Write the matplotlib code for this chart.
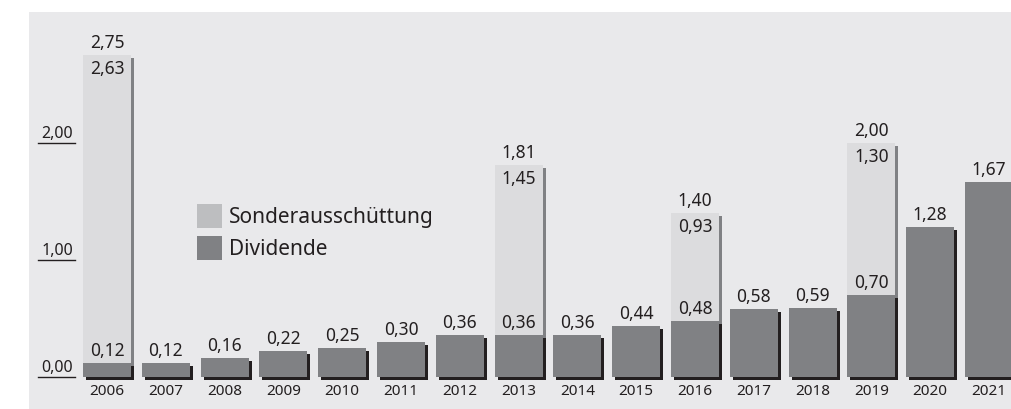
import matplotlib
matplotlib.use("Agg")
import matplotlib.pyplot as plt
from matplotlib.patches import Rectangle
from matplotlib.transforms import ScaledTranslation

years = [str(y) for y in range(2006, 2022)]
dividende = [0.12, 0.12, 0.16, 0.22, 0.25, 0.30, 0.36, 0.36, 0.36, 0.44, 0.48, 0.58, 0.59, 0.70, 1.28, 1.67]
sonder = [2.63, 0, 0, 0, 0, 0, 0, 1.45, 0, 0, 0.93, 0, 0, 1.30, 0, 0]
gesamt = [2.75, 0, 0, 0, 0, 0, 0, 1.81, 0, 0, 1.40, 0, 0, 2.00, 0, 0]
yticks = [0, 1, 2]

C_LIGHT = "#dcdcde"
C_LEG_LIGHT = "#bdbec0"
C_DARK = "#808184"
C_SHADOW = "#231f20"
C_TEXT = "#231f20"
C_PANEL = "#e9e9eb"

def fmt(v):
    return f"{v:.2f}".replace(".", ",")

plt.rcParams["font.family"] = ["Noto Sans", "DejaVu Sans"]
plt.rcParams["font.weight"] = "medium"

W, H = 1011, 410
fig = plt.figure(figsize=(W / 100, H / 100), dpi=100)
fig.patch.set_facecolor("white")
fig.patches.append(Rectangle((29 / W, 0), 1, 397 / H, transform=fig.transFigure,
                             facecolor=C_PANEL, edgecolor="none", zorder=-5))

ax = fig.add_axes([0, 0, 1, 1])
ax.set_facecolor("none")
ax.axis("off")
# 58.8 px je Kategorie, 117 px je Einheit, Null bei y=378px, erster Balken bei x=107px
STEP = 58.8
ax.set_xlim(-107 / STEP, (W - 107) / STEP)
ax.set_ylim(-32 / 117, (H - 32) / 117)

x = list(range(len(years)))
bw = 48 / STEP
shadow = ax.transData + ScaledTranslation(0.03, -0.03, fig.dpi_scale_trans)

# Schatten
ax.bar([i for i in x if gesamt[i]], [g for g in gesamt if g], width=bw,
       color=C_DARK, transform=shadow, zorder=1)
ax.bar(x, dividende, width=bw, color=C_SHADOW, transform=shadow, zorder=2)
# Balken
ax.bar([i for i in x if gesamt[i]], [g for g in gesamt if g], width=bw,
       color=C_LIGHT, zorder=3)
ax.bar(x, dividende, width=bw, color=C_DARK, zorder=4)

for i in x:
    ax.annotate(fmt(dividende[i]), (i, dividende[i]), xytext=(0, 4), textcoords="offset pixels",
                ha="center", va="bottom", fontsize=12.5, color=C_TEXT, zorder=5)
    ax.annotate(years[i], (i, 0), xytext=(0, -6), textcoords="offset pixels",
                ha="center", va="top", fontsize=11, color=C_TEXT, zorder=5)
    if gesamt[i]:
        ax.annotate(fmt(gesamt[i]), (i, gesamt[i]), xytext=(0, 4), textcoords="offset pixels",
                    ha="center", va="bottom", fontsize=12.5, color=C_TEXT, zorder=5)
        ax.annotate(fmt(sonder[i]), (i, gesamt[i]), xytext=(0, -4), textcoords="offset pixels",
                    ha="center", va="top", fontsize=12.5, color=C_TEXT, zorder=5)

# y-Achse
yt = ax.get_yaxis_transform()
for v in yticks:
    ax.plot([38 / W, 75 / W], [v, v], transform=yt, color=C_TEXT, lw=1, clip_on=False)
    ax.annotate(fmt(v), (73 / W, v), xycoords=yt, xytext=(0, 2), textcoords="offset pixels",
                ha="right", va="bottom", fontsize=11.5, color=C_TEXT)

# Legende
fig.patches.append(Rectangle((197 / W, 1 - 229 / H), 25 / W, 24 / H, transform=fig.transFigure,
                             facecolor=C_LEG_LIGHT, edgecolor="none", zorder=6))
fig.patches.append(Rectangle((197 / W, 1 - 261 / H), 25 / W, 24 / H, transform=fig.transFigure,
                             facecolor=C_DARK, edgecolor="none", zorder=6))
fig.text(229 / W, 1 - 218 / H, "Sonderausschüttung", fontsize=15, color=C_TEXT, va="center")
fig.text(229 / W, 1 - 250 / H, "Dividende", fontsize=15, color=C_TEXT, va="center")

fig.savefig("out.png", dpi=100, facecolor=fig.get_facecolor())
